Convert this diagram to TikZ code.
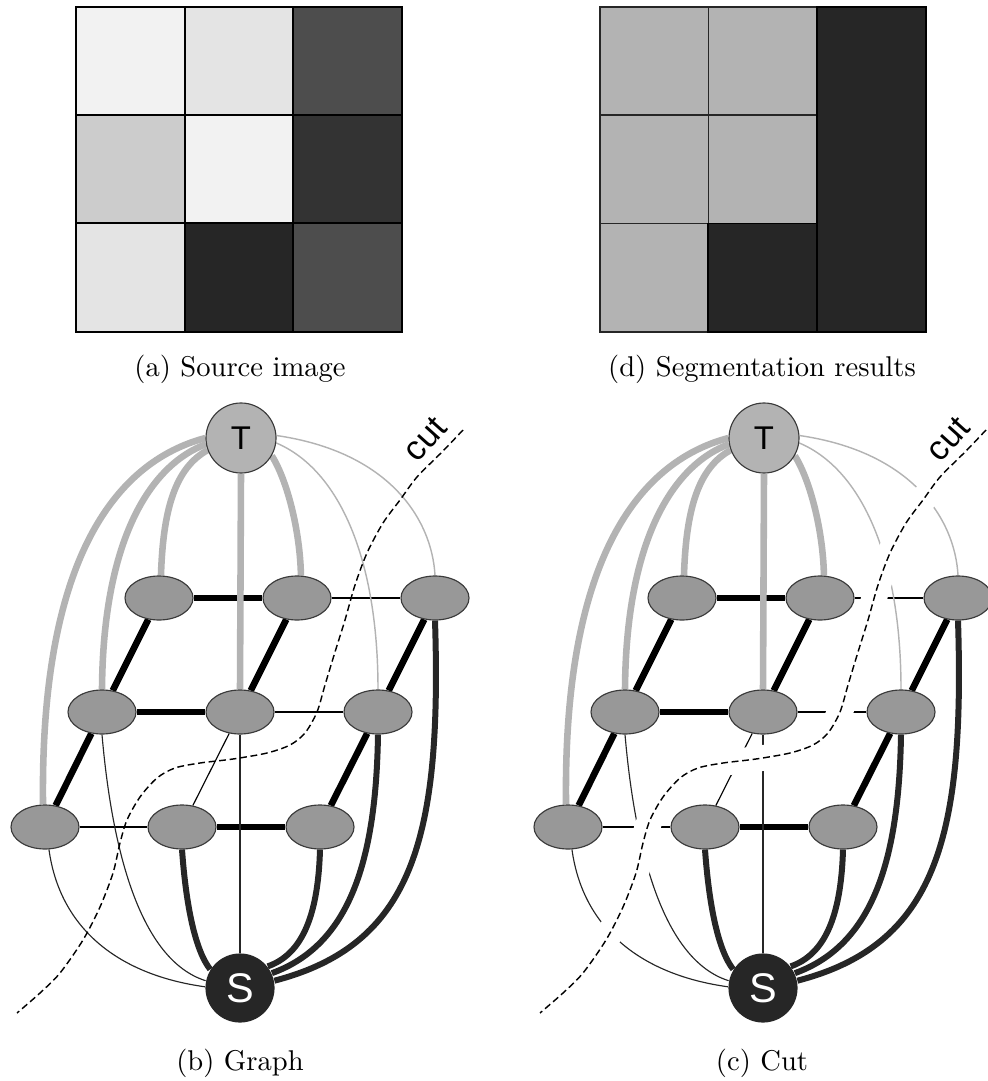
\documentclass[tikz,border=0pt]{standalone}
\usepackage{fontspec}
\newfontfamily\labfont{Liberation Sans}
\usetikzlibrary{shapes.geometric}
\pgfdeclarelayer{edgelayer}
\pgfsetlayers{edgelayer,main}
\definecolor{tgrey}{HTML}{B3B3B3}
\definecolor{sdark}{HTML}{262626}
\definecolor{nodegrey}{HTML}{989898}
\definecolor{rimgrey}{HTML}{3A3A3A}
\definecolor{ca}{HTML}{F2F2F2}
\definecolor{cb}{HTML}{E4E4E4}
\definecolor{cc}{HTML}{CCCCCC}
\definecolor{cd}{HTML}{4D4D4D}
\definecolor{ce}{HTML}{333333}
\tikzset{
  gridnode/.style={ellipse, draw=rimgrey, line width=0.4pt, fill=nodegrey, minimum width=23.8pt, minimum height=15.4pt, inner sep=0pt},
  tnode/.style={circle, draw=rimgrey, line width=0.4pt, fill=tgrey, minimum size=24.5pt, inner sep=0pt, font=\labfont\fontsize{11.5}{12}\selectfont},
  snode/.style={circle, fill=sdark, text=white, minimum size=24.2pt, inner sep=0pt, font=\labfont\fontsize{14.5}{15}\selectfont},
  nthick/.style={line width=2.3pt, black},
  nthin/.style={line width=0.4pt, black},
  tthick/.style={line width=2.3pt, tgrey},
  tthin/.style={line width=0.5pt, tgrey},
  sthick/.style={line width=2.1pt, sdark},
  sthin/.style={line width=0.4pt, sdark},
  cutline/.style={line width=0.5pt, dash pattern=on 2.4pt off 1.3pt},
  cutgap/.style={line width=9pt, white},
  cutlabel/.style={font=\labfont\fontsize{12}{12}\selectfont, rotate=48, inner sep=0pt},
  caption/.style={anchor=base, inner sep=0pt, font=\fontsize{10}{12}\selectfont},
  cellA/.style={draw=black, line width=0.7pt},
  cellD/.style={draw=black!85, line width=0.45pt},
}
\newcommand\drawcut[1]{\draw[#1] plot[smooth, tension=0.5] coordinates {(463,430) (443,451) (417,477) (400,500) (383,523) (367,553) (355,585) (345,620) (335,652) (325,685) (317,712) (305,733) (290,745) (267,753) (233,759) (200,763) (175,768) (157,778) (140,797) (127,820) (120,843) (113,873) (100,907) (83,940) (60,973) (40,993) (17,1013)};}
\newcommand\graphpanel[3]{%
\begin{scope}[shift={(#2,0)}]
  \node[tnode] (#1T) at (241,438) {T};
  \node[snode] (#1S) at (240,988) {S};
  \node[gridnode] (#1n1) at (159,598) {};
  \node[gridnode] (#1n2) at (297,598) {};
  \node[gridnode] (#1n3) at (435,598) {};
  \node[gridnode] (#1m1) at (102,712) {};
  \node[gridnode] (#1m2) at (240,712) {};
  \node[gridnode] (#1m3) at (378,712) {};
  \node[gridnode] (#1b1) at (45,827) {};
  \node[gridnode] (#1b2) at (182,827) {};
  \node[gridnode] (#1b3) at (320,827) {};
  \begin{pgfonlayer}{edgelayer}
    % grid (n-links)
    \draw[nthick] (#1n1) -- (#1n2);
    \draw[nthin]  (#1n2) -- (#1n3);
    \draw[nthick] (#1m1) -- (#1m2);
    \draw[nthin]  (#1m2) -- (#1m3);
    \draw[nthin]  (#1b1) -- (#1b2);
    \draw[nthick] (#1b2) -- (#1b3);
    \draw[nthick] (#1n1) -- (#1m1);
    \draw[nthick] (#1n2) -- (#1m2);
    \draw[nthick] (#1n3) -- (#1m3);
    \draw[nthick] (#1m1) -- (#1b1);
    \draw[nthin]  (#1m2) -- (#1b2);
    \draw[nthick] (#1m3) -- (#1b3);
    % T-links
    \draw[tthick] (#1T.180) .. controls (115,462) and (40,560) .. (#1b1.95);
    \draw[tthick] (#1T.190) .. controls (150,465) and (103,540) .. (#1m1.north);
    \draw[tthick] (#1T.200) .. controls (175,468) and (163,510) .. (#1n1.85);
    \draw[tthick] (#1T.south) -- (#1m2.north);
    \draw[tthick] (#1T.330) .. controls (287,480) and (300,530) .. (#1n2.80);
    \draw[tthin] (#1T.352) .. controls (340,470) and (378,560) .. (#1m3.north);
    \draw[tthin] (#1T.4) .. controls (390,452) and (432,520) .. (#1n3.north);
    % S-links
    \draw[sthick] (#1b2.south) .. controls (186,905) and (195,950) .. (#1S.148);
    \draw[sthick] (#1b3.south) .. controls (318,920) and (300,955) .. (#1S.38);
    \draw[sthick] (#1m3.south) .. controls (376,860) and (350,945) .. (#1S.25);
    \draw[sthick] (#1n3.south) .. controls (442,840) and (412,945) .. (#1S.12);
    \draw[sthin] (#1m2.south) -- (#1S.north);
    \draw[sthin] (#1m1.south) .. controls (112,850) and (140,960) .. (#1S.168);
    \draw[sthin] (#1b1.-80) .. controls (60,930) and (120,975) .. (#1S.178);
    \ifnum#3=1 \drawcut{cutgap}\fi
  \end{pgfonlayer}
  \drawcut{cutline}
  \node[cutlabel] (#1cut) at (425,439) {cut};
\end{scope}}
\begin{document}
\begin{tikzpicture}[x=0.35pt, y=-0.35pt]
\useasboundingbox (0,0) rectangle (987,1081);
% (a) source image
\fill[ca] (76,7) rectangle (184.7,115);
\fill[cb] (184.7,7) rectangle (293.3,115);
\fill[cd] (293.3,7) rectangle (402,115);
\fill[cc] (76,115) rectangle (184.7,223.5);
\fill[ca] (184.7,115) rectangle (293.3,223.5);
\fill[ce] (293.3,115) rectangle (402,223.5);
\fill[cb] (76,223.5) rectangle (184.7,332);
\fill[sdark] (184.7,223.5) rectangle (293.3,332);
\fill[cd] (293.3,223.5) rectangle (402,332);
\draw[cellA] (76,7) rectangle (402,332);
\draw[cellA] (184.7,7) -- (184.7,332) (293.3,7) -- (293.3,332) (76,115) -- (402,115) (76,223.5) -- (402,223.5);
% (d) segmentation results
\fill[tgrey] (600,7) rectangle (816.7,223.5);
\fill[tgrey] (600,223.5) rectangle (708.3,332);
\fill[sdark] (816.7,7) rectangle (926,223.5);
\fill[sdark] (708.3,223.5) rectangle (926,332);
\draw[cellD] (600,7) rectangle (926,332);
\draw[cellD] (708.3,7) -- (708.3,332) (816.7,7) -- (816.7,332) (600,115) -- (926,115) (600,223.5) -- (926,223.5);
\draw[line width=0.6pt, black] (816.7,7) rectangle (926,332) (708.3,223.5) rectangle (816.7,332);
\node[caption] (capa) at (240,377) {(a) Source image};
\node[caption] (capd) at (762,377) {(d) Segmentation results};
% (b) graph and (c) cut
\graphpanel{b}{0}{0}
\graphpanel{c}{523}{1}
\node[caption] (capb) at (240,1070) {(b) Graph};
\node[caption] (capc) at (762,1070) {(c) Cut};
\end{tikzpicture}
\end{document}
